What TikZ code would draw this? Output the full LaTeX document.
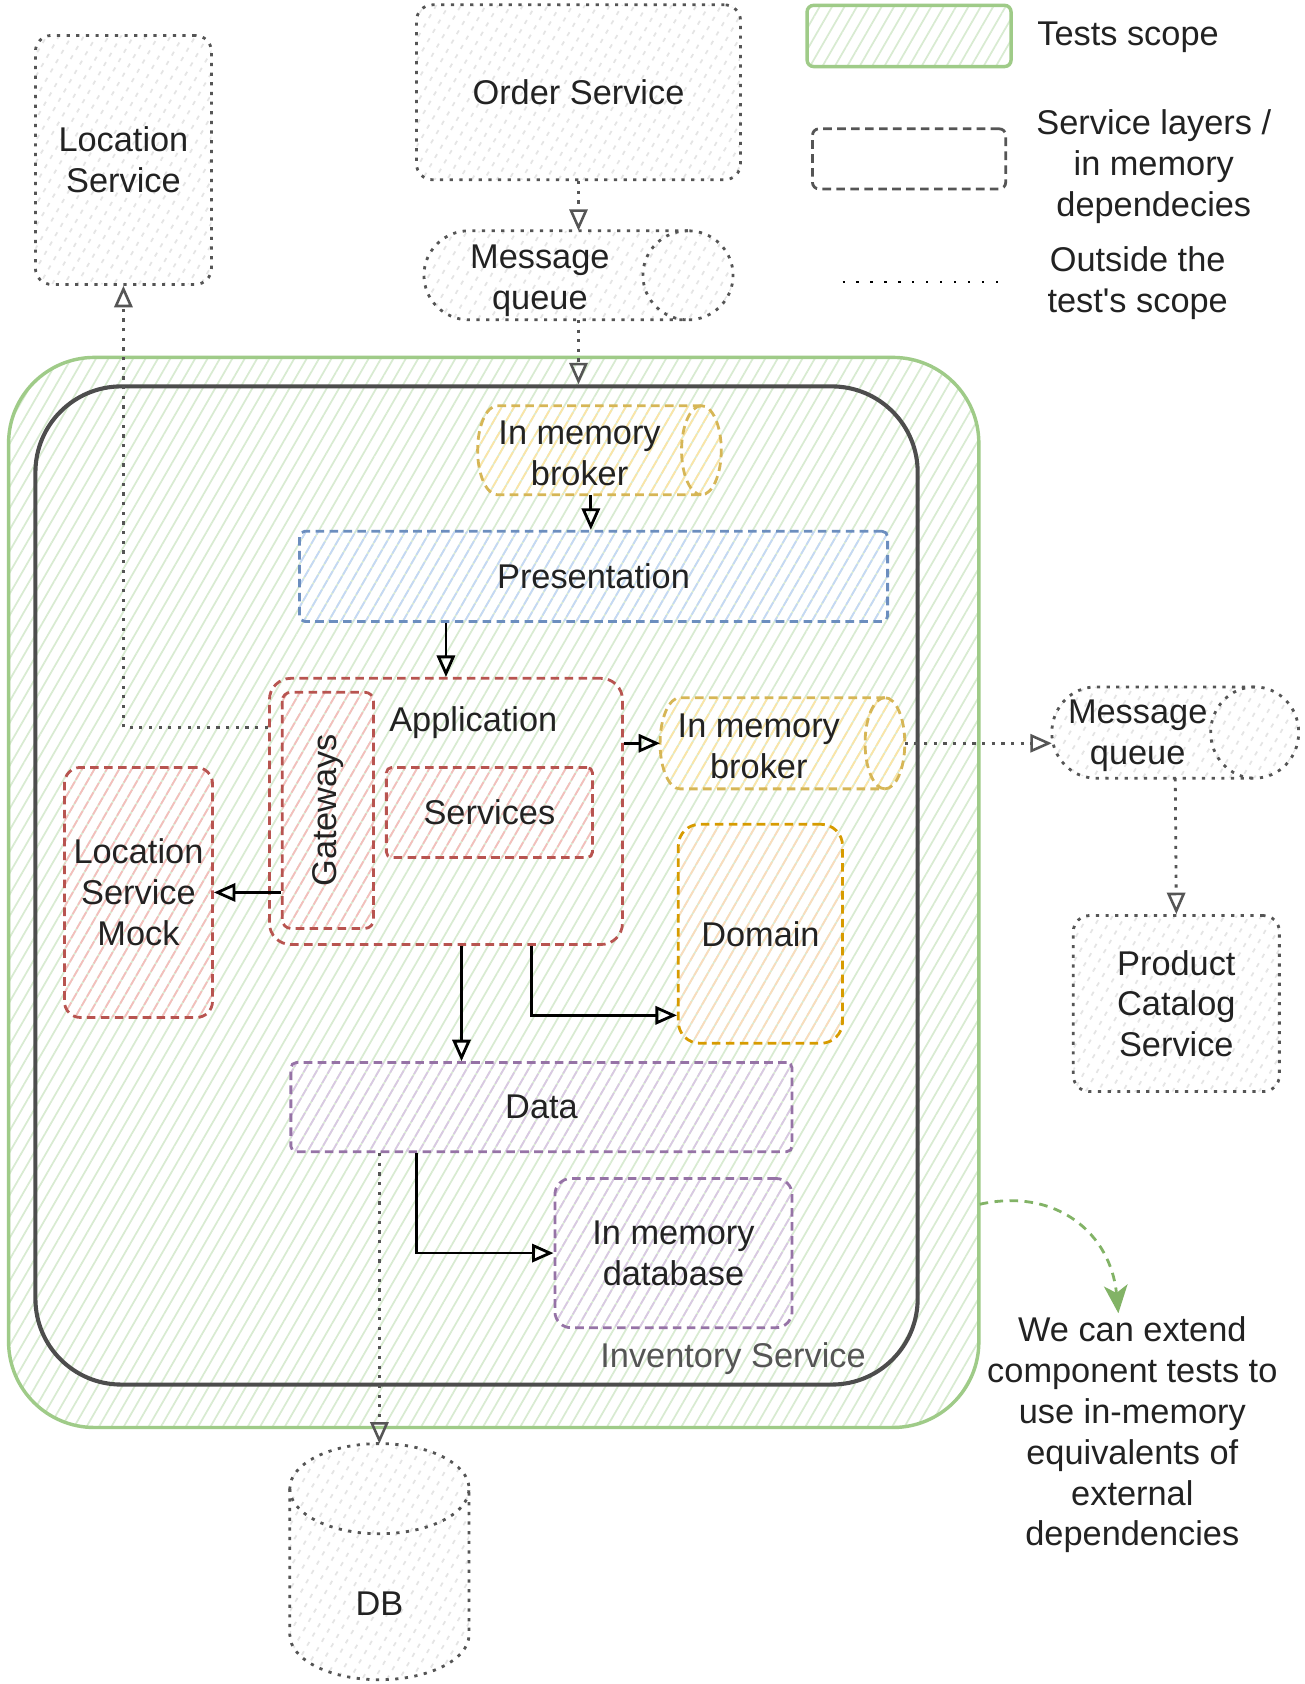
\documentclass[tikz,border=0pt]{standalone}
\usepackage{fontspec}
\setmainfont{Liberation Sans}[Ligatures=TeXOff]
\usetikzlibrary{arrows.meta,patterns.meta}
\definecolor{extgray}{HTML}{555555}
\definecolor{exthatch}{HTML}{E4E4E4}
\definecolor{textgray}{HTML}{222222}
\definecolor{scopeline}{HTML}{9FCB88}
\definecolor{scopefill}{HTML}{D8EBD1}
\definecolor{invline}{HTML}{4D4D4D}
\definecolor{blueline}{HTML}{6C8EBF}
\definecolor{bluefill}{HTML}{C4D8F5}
\definecolor{redline}{HTML}{B85450}
\definecolor{redfill}{HTML}{F4BEBC}
\definecolor{yellowline}{HTML}{D6B656}
\definecolor{yellowfill}{HTML}{FBE5A6}
\definecolor{orangeline}{HTML}{D79B00}
\definecolor{orangefill}{HTML}{FADCBC}
\definecolor{purpleline}{HTML}{9673A6}
\definecolor{purplefill}{HTML}{D9C8E3}
\definecolor{notegreen}{HTML}{82B366}
\newcommand{\hcyl}[5]{%
	\path[#4, hatch=#5] ([xshift=-#2]#1.north east) -- ([xshift=#2]#1.north west) arc[start angle=90, end angle=270, x radius=#2, y radius=#3] -- ([xshift=-#2]#1.south east) arc[start angle=-90, end angle=90, x radius=#2, y radius=#3] -- cycle;
	\path[#4] ([xshift=-#2]#1.north east) arc[start angle=90, end angle=270, x radius=#2, y radius=#3];}
\newcommand{\vcyl}[5]{%
	\path[#4, hatch=#5] ([yshift=-#3]#1.north west) -- ([yshift=#3]#1.south west) arc[start angle=180, end angle=360, x radius=#2, y radius=#3] -- ([yshift=-#3]#1.north east) arc[start angle=0, end angle=180, x radius=#2, y radius=#3] -- cycle;
	\path[#4] ([yshift=-#3]#1.north west) arc[start angle=180, end angle=360, x radius=#2, y radius=#3];}

\begin{document}
\begin{tikzpicture}[x=1pt, y=-1pt, font=\fontsize{32}{38}\selectfont, text=textgray,
	hatch/.style={pattern={Lines[angle=60,distance=10pt,line width=1.6pt]}, pattern color=#1},
	extline/.style={draw=extgray, line width=2.6pt, dash pattern=on 3pt off 6pt},
	layerline/.style={draw=#1line, line width=2.6pt, dash pattern=on 8pt off 5pt},
	ext/.style={shape=rectangle, extline, rounded corners=15pt, hatch=exthatch, align=center, inner sep=0pt},
	layer/.style={shape=rectangle, layerline=#1, hatch=#1fill, align=center, rounded corners=5pt, inner sep=0pt},
	frame/.style={shape=rectangle, inner sep=0pt, outer sep=0pt},
	label/.style={align=center},
	flow/.style={draw=black, line width=2.6pt, -{Triangle[open,length=20pt,width=17pt,line width=2.6pt]}},
	extflow/.style={extline, -{Triangle[open,length=20pt,width=17pt,line width=2.4pt]}}]
	\fill[white] (0,0) rectangle (1215,1569);
	\useasboundingbox (0,0) rectangle (1215,1569);

	\node[shape=rectangle, draw=scopeline, line width=3.2pt, rounded corners=80pt, hatch=scopefill, minimum width=904pt, minimum height=997pt] (tests) at (460,831.5) {};
	\node[shape=rectangle, draw=invline, line width=3.8pt, rounded corners=80pt, minimum width=822pt, minimum height=930pt] (inventory) at (444,825) {};
	\node[text=extgray] (invlabel) at (683,1266) {Inventory Service};

	\node[ext, minimum width=164pt, minimum height=232pt] (locsvc) at (115,149) {Location\\Service};
	\node[ext, minimum width=302pt, minimum height=163pt] (ordersvc) at (539,86) {Order Service};
	\node[frame, minimum width=288pt, minimum height=83pt] (mq1) at (539,256.5) {};
	\hcyl{mq1}{42pt}{41.5pt}{extline}{exthatch}
	\node[label] (mq1label) at ([xshift=-36pt,yshift=-5pt]mq1.center) {Message\\queue};

	\node[frame, minimum width=227pt, minimum height=83pt] (broker1) at (558.5,419.5) {};
	\hcyl{broker1}{18.5pt}{41.5pt}{layerline=yellow}{yellowfill}
	\node[label] (broker1label) at ([xshift=-18.5pt,yshift=-3pt]broker1.center) {In memory\\broker};
	\node[layer=blue, minimum width=548pt, minimum height=84pt] (pres) at (553,537) {Presentation};
	\node[shape=rectangle, layerline=red, rounded corners=20pt, minimum width=329pt, minimum height=248pt] (app) at (415.5,756) {};
	\node (applabel) at (441,673) {Application};
	\node[layer=red, rounded corners=8pt, rotate=90, minimum width=220pt, minimum height=85pt] (gw) at (305.5,755) {Gateways};
	\node[layer=red, minimum width=192pt, minimum height=84pt] (services) at (456,757) {Services};
	\node[layer=red, rounded corners=15pt, minimum width=138pt, minimum height=233pt] (mock) at (129,831.5) {Location\\Service\\Mock};
	\node[frame, minimum width=228pt, minimum height=85pt] (broker2) at (729,692.5) {};
	\hcyl{broker2}{18.5pt}{42.5pt}{layerline=yellow}{yellowfill}
	\node[label] (broker2label) at ([xshift=-22pt,yshift=-3pt]broker2.center) {In memory\\broker};
	\node[layer=orange, rounded corners=20pt, minimum width=153pt, minimum height=204pt] (domain) at (708.5,870) {Domain};
	\node[layer=purple, minimum width=467pt, minimum height=83pt] (data) at (504.5,1031.5) {Data};
	\node[layer=purple, rounded corners=15pt, minimum width=221pt, minimum height=139pt] (imdb) at (627.5,1167.5) {In memory\\database};

	\node[frame, minimum width=230pt, minimum height=85pt] (mq2) at (1095,682.5) {};
	\hcyl{mq2}{41pt}{42.5pt}{extline}{exthatch}
	\node[label] (mq2label) at ([xshift=-35pt,yshift=-3pt]mq2.center) {Message\\queue};
	\node[ext, minimum width=192pt, minimum height=164pt] (catalog) at (1096,935) {Product\\Catalog\\Service};
	\node[frame, minimum width=167pt, minimum height=220pt] (db) at (353.5,1455) {};
	\vcyl{db}{83.5pt}{42pt}{extline}{exthatch}
	\node (dblabel) at ([yshift=-39pt]db.center) {DB};

	\node[label] (note) at (1055,1337) {We can extend\\component tests to\\use in-memory\\equivalents of\\external\\dependencies};

	\node[shape=rectangle, draw=scopeline, line width=3.2pt, rounded corners=6pt, hatch=scopefill, minimum width=190pt, minimum height=57pt] (lgtests) at (847,33.5) {};
	\node[anchor=west] (lgtestslabel) at (963,35) {Tests scope};
	\node[shape=rectangle, draw=extgray, line width=2.6pt, dash pattern=on 8pt off 5pt, rounded corners=6pt, minimum width=180pt, minimum height=56pt] (lglayer) at (847,148) {};
	\node[label] (lglayerlabel) at (1075,155) {Service layers /\\in memory\\dependecies};
	\coordinate (lgoutstart) at (785,263);
	\coordinate (lgoutend) at (938,263);
	\draw[black, line width=2pt, dash pattern=on 2pt off 11pt] (lgoutstart) -- (lgoutend);
	\node[label] (lgoutlabel) at (1060,264) {Outside the\\test's scope};

	\draw[extflow] (ordersvc.south) -- (mq1.north);
	\draw[extflow] (mq1.south) -- (mq1.south |- inventory.north);
	\draw[flow] ([xshift=-8pt]broker1.south) -- ([xshift=-8pt]broker1.south |- pres.north);
	\draw[flow] (pres.south -| app.north) -- (app.north);
	\draw[flow] (app.east |- broker2.west) -- (broker2.west);
	\draw[flow] (gw.north |- mock.east) -- (mock.east);
	\draw[extflow] ([yshift=78pt]app.west) -| (locsvc.south);
	\draw[extflow] (broker2.east) -- (broker2.east -| mq2.west);
	\draw[extflow] (mq2.south) -- (catalog.north);
	\draw[flow] ([xshift=14.5pt]app.south) -- ([xshift=14.5pt]app.south |- data.north);
	\draw[flow] ([xshift=79.5pt]app.south) |- ([yshift=-76pt]domain.west);
	\draw[flow] ([xshift=-116.5pt]data.south) |- (imdb.west);
	\draw[extflow] (data.south -| db.north) -- (db.north);
	\draw[notegreen, line width=2.6pt, dash pattern=on 8pt off 6pt, -{Stealth[length=26pt,width=22pt,inset=7pt]}] ([yshift=-290.5pt]tests.east) .. controls (985,1106) and (1035,1150) .. ([xshift=-13pt]note.north);
\end{tikzpicture}
\end{document}
